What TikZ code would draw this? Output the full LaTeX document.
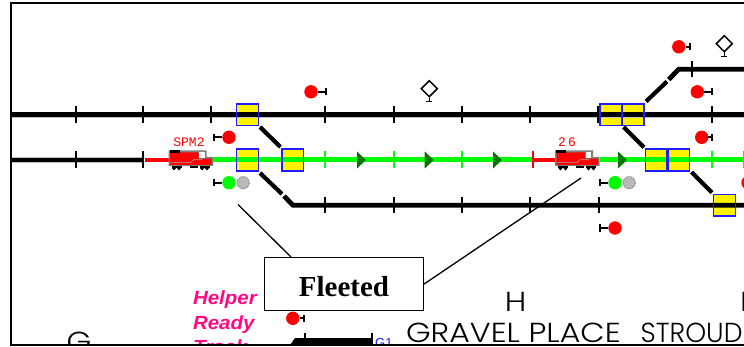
\documentclass[tikz,border=0pt]{standalone}
\usepackage{fontspec}
\usepackage{graphicx}
\usetikzlibrary{shapes.geometric}
\setmainfont{Liberation Serif}
\newfontfamily\armfont[FakeStretch=1.08]{Liberation Sans}
\newfontfamily\plainsans{Liberation Sans}
\newfontfamily\monof{Liberation Mono}
\newfontfamily\popf[UprightFont=* Light,FakeStretch=1.15]{Poppins}
\definecolor{sigred}{RGB}{255,0,0}
\definecolor{siggreen}{RGB}{0,255,0}
\definecolor{arrowgreen}{RGB}{0,120,0}
\definecolor{boxblue}{RGB}{30,30,255}
\definecolor{helperpink}{RGB}{255,10,130}
\definecolor{halo}{RGB}{190,190,190}
\tikzset{
  x=1pt,y=-1pt,
  trackline/.style={line width=4.8pt,black},
  haloline/.style={line width=6.2pt,halo},
  redline/.style={line width=4.8pt,sigred},
  greenline/.style={line width=5pt,siggreen},
  divergeline/.style={line width=4.2pt,black},
  tickmark/.style={line width=2pt,black},
  greentick/.style={line width=2pt,siggreen},
  stemline/.style={line width=1.7pt,black},
  leader/.style={line width=1.3pt,black},
  yellowbox/.style={fill=yellow,minimum width=21.6pt,minimum height=21.6pt,inner sep=0pt,outer sep=0pt},
  blueframe/.style={draw=boxblue,line width=1.5pt,minimum width=21.6pt,minimum height=21.6pt,inner sep=0pt,outer sep=0pt},
  lamp/.style={circle,minimum size=13.4pt,inner sep=0pt,outer sep=0pt},
  redlamp/.style={lamp,fill=sigred},
  greenlamp/.style={lamp,fill=siggreen},
  graylamp/.style={lamp,fill=gray!55,draw=black!70,densely dotted,line width=.7pt,minimum size=12.4pt},
  diamondmark/.style={draw=black,fill=white,line width=1.5pt,shape=diamond,aspect=1,minimum width=16pt,minimum height=16pt,inner sep=0pt,outer sep=0pt},
  calloutbox/.style={draw=black,fill=white,line width=1.3pt,minimum width=159pt,minimum height=53.6pt,inner sep=0pt,font=\fontsize{29}{29}\selectfont\bfseries},
  stationname/.style={inner sep=0pt,outer sep=0pt,anchor=base west,font=\fontsize{27.5}{27.5}\popf},
  helpertext/.style={inner sep=0pt,outer sep=0pt,anchor=base west,text=helperpink,font=\fontsize{19}{19}\armfont\bfseries\itshape},
  trainlabel/.style={inner sep=0pt,text=sigred,font=\fontsize{13}{13}\monof},
}
\newcommand{\loco}[2]{%
  \begin{scope}[shift={(#1,#2)}]
    \fill[gray] (0,0.5) -- (38,0.5) -- (38,7) -- (44.5,7) -- (44.5,16) -- (0,16) -- cycle;
    \fill[white] (30.5,2.5) rectangle (36.2,8);
    \fill[sigred] (1.6,2.4) -- (30,2.4) -- (30,8.6) -- (43,8.6) -- (43,14.8) -- (1.6,14.8) -- cycle;
    \fill[black] (1,0.3) rectangle (11,2.8);
    \draw[gray!70,line width=.6pt] (2,12.6) -- (22,12.6) -- (25,9.8) -- (34,9.8);
    \fill[black] (3,16) rectangle (13,18);
    \fill[black] (21,16) rectangle (29,18);
    \fill[black] (31,16) rectangle (41,18);
    \foreach \w in {5.5,10.5,33.5,38.5} \fill[black] (\w,18.5) circle (1.8);
  \end{scope}}
\begin{document}
\begin{tikzpicture}
\useasboundingbox (0,0) rectangle (744,347);
\fill[white] (0,0) rectangle (744,347);
\begin{scope}
\clip (0,0) rectangle (744,344.5);
% yellow fills
\foreach \n/\x/\y in {a/247.5/114.9,b/247.5/160,c/292.9/160,d/611/114.9,e/633.2/114.9,f/656.4/160,g/678.6/160,h/724.5/205.3}
  \node[yellowbox] (fill\n) at (\x,\y) {};
% named track ends
\coordinate (tl) at (11,114.7); \coordinate (tr) at (746,114.7);
\coordinate (ml) at (11,160);
\coordinate (mt) at (143,160);
\coordinate (r1s) at (145,160); \coordinate (r1e) at (169,160);
\coordinate (g1s) at (213,160); \coordinate (g1e) at (532,160);
\coordinate (r2s) at (532,160); \coordinate (r2e) at (556,160);
\coordinate (g2s) at (600,160); \coordinate (g2e) at (746,160);
\draw[haloline] (tl) -- (tr);
\draw[haloline] (ml) -- (mt);
\draw[trackline] (tl) -- (tr);
\draw[trackline] (ml) -- (mt);
\draw[redline] (r1s) -- (r1e);
\draw[redline] (r2s) -- (r2e);
\draw[greenline] (g1s) -- (g1e);
\draw[greenline] (g2s) -- (g2e);
% lower and upper branches
\draw[divergeline] (260,127) -- (280.5,147);
\draw[divergeline] (260,173) -- (282,194);
\draw[trackline] (284,196) -- (293,205.3) -- (746,205.3);
\draw[divergeline] (646,101.5) -- (667,81.5);
\draw[trackline] (668.7,79.5) -- (678.8,69.2) -- (746,69.2);
\draw[divergeline] (623.7,127) -- (644,147.3);
\draw[divergeline] (691.5,172) -- (712,192.7);
% ticks
\foreach \x in {75.5,143.3,211,325,393.7,462,529.7,598,711.5}
  \draw[tickmark] (\x,106.5) -- (\x,123);
\foreach \x in {75.5,143.3}
  \draw[tickmark] (\x,151.5) -- (\x,168.5);
\foreach \x in {325,393.7,462,711.5,743.5}
  \draw[greentick] (\x,151.5) -- (\x,168.5);
\draw[line width=2pt,sigred] (532.7,151.5) -- (532.7,168.5);
\foreach \x in {325,393.7,462,530,598.5}
  \draw[tickmark] (\x,197) -- (\x,213.5);
\draw[tickmark] (691.5,61) -- (691.5,77.5);
% green arrows
\foreach \x in {357,424.7,493,618}
  \fill[arrowgreen] (\x,151.5) -- (\x+9,160) -- (\x,168.5) -- cycle;
% blue frames
\foreach \n/\x/\y in {a/247.5/114.9,b/247.5/160,c/292.9/160,d/611/114.9,e/633.2/114.9,f/656.4/160,g/678.6/160,h/724.5/205.3}
  \node[blueframe] (box\n) at (\x,\y) {};
% trains
\loco{168.5}{150}
\loco{555}{150}
\node[trainlabel] (spm) at (189,142) {SPM2};
\node[trainlabel] (tn) at (567,142) {2\,6};
% signals
\foreach \n/\x/\y/\t in {s1/311/91.8/326,s2/678.8/46.8/689.8,s3/697.3/91.8/712,s4/701.7/137.3/712,s5/292.8/318.3/304,s6/229/137.3/214,s7/615/228/600}{
  \node[redlamp] (\n) at (\x,\y) {};
  \coordinate (\n t) at (\t,\y);
  \draw[stemline] (\n) -- (\n t);
  \draw[stemline] (\t,\y-3.7) -- (\t,\y+3.7);
}
\foreach \n/\x/\t in {s8/229/214,s9/615/600}{
  \node[greenlamp] (\n) at (\x,182.7) {};
  \node[graylamp] (\n g) at (\x+14.2,182.7) {};
  \coordinate (\n t) at (\t,182.7);
  \draw[stemline] (\n) -- (\n t);
  \draw[stemline] (\t,179) -- (\t,186.4);
}
\node[redlamp] (s10) at (748,182.7) {};
% diamonds
\foreach \n/\x/\y in {p1/429.3/88.7,p2/724.3/43.7}{
  \node[diamondmark] (\n) at (\x,\y) {};
  \coordinate (\n b) at (\x,\y+12.8);
  \draw[line width=1.6pt] (\n.south) -- (\n b);
  \draw[line width=1.6pt] (\x-3,\y+12.8) -- (\x+3,\y+12.8);
}
% callout
\coordinate (la) at (238,204.5);
\coordinate (lb) at (581,178);
\node[calloutbox] (call) at (344,284) {\raisebox{-2pt}[\height][0pt]{Fleeted}};
\draw[leader] (la) -- (291,257);
\draw[leader] (lb) -- (call.east);
% labels
\node[helpertext] (h1) at (193,305) {Helper};
\node[helpertext] (h2) at (193,329) {Ready};
\node[helpertext] (h3) at (193,353) {Track};
\node[stationname,anchor=base] (lg) at (79,351) {G};
\node[stationname,anchor=base] (lh) at (515.5,311) {H};
\node[stationname] (li) at (740,311) {I};
\node[stationname] (st) at (406,342) {GRAVEL PLACE\hspace{20pt}\scalebox{.84}[1]{STROUD}};
\node[inner sep=0pt,anchor=base west,text=boxblue,font=\fontsize{13}{13}\plainsans] (g1) at (375,347) {G1};
% bottom track
\fill[black] (290,345) -- (295,338) -- (372,338) -- (372,345) -- cycle;
\draw[tickmark] (305,332.5) -- (305,344);
\draw[tickmark] (371.7,332.5) -- (371.7,344);
\end{scope}
% frame
\draw[black,line width=2.2pt] (746,3) -- (11,3) -- (11,345) -- (746,345);
\end{tikzpicture}
\end{document}
